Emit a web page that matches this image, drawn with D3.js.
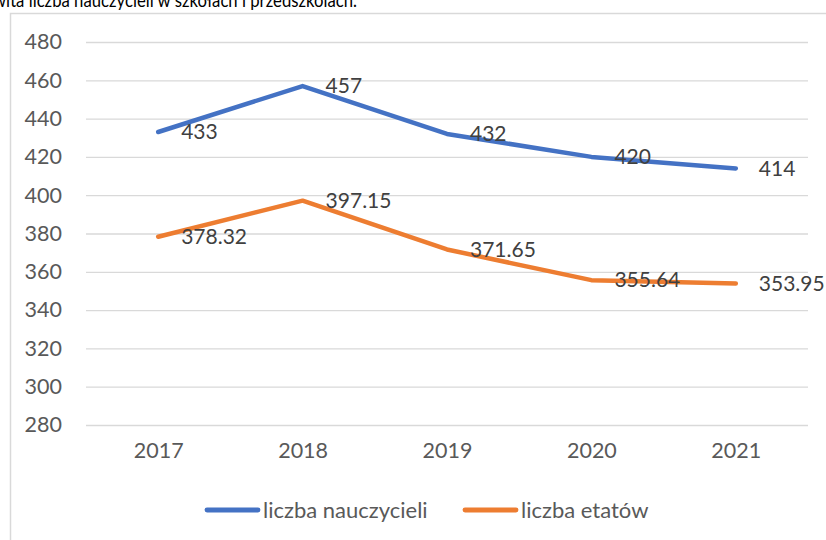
<!DOCTYPE html>
<html><head><meta charset="utf-8">
<script src="https://cdn.jsdelivr.net/npm/d3@7/dist/d3.min.js"></script>
<style>body{margin:0;background:#fff;}svg{display:block;font-family:Lato,"Open Sans",sans-serif;}</style>
</head><body>
<script>
const years = ["2017","2018","2019","2020","2021"];
const nauczyciele = [433, 457, 432, 420, 414];
const etaty = [378.32, 397.15, 371.65, 355.64, 353.95];
const yTicks = [280,300,320,340,360,380,400,420,440,460,480];
const seriesNames = ["liczba nauczycieli","liczba etatów"];
const colors = ["#4472C4","#ED7D31"];
const title = "wita liczba nauczycieli w szkołach i przedszkolach.";

const W=826,H=540;
const svg=d3.select("body").append("svg").attr("width",W).attr("height",H);

svg.append("text").attr("x",-7).attr("y",7).attr("font-size",19).attr("fill","#000")
  .attr("textLength",364).attr("lengthAdjust","spacingAndGlyphs").text(title);

// chart border
svg.append("path").attr("d",`M10.5,${H} V13.5 H${W}`).attr("fill","none").attr("stroke","#d9d9d9").attr("stroke-width",1.5);

const x=d3.scalePoint().domain(years).range([86,808]).padding(0.5);
const y=d3.scaleLinear().domain([280,480]).range([425,42]);

svg.selectAll("line.grid").data(yTicks).join("line")
 .attr("x1",86).attr("x2",808).attr("y1",d=>y(d)+0.5).attr("y2",d=>y(d)+0.5)
 .attr("stroke","#d9d9d9").attr("stroke-width",1.3);

const yAxis=d3.axisLeft(y).tickValues(yTicks).tickSize(0).tickPadding(0);
const ya=svg.append("g").attr("transform","translate(62,0)").call(yAxis);
ya.select(".domain").remove();
ya.selectAll("text").attr("font-size",21.5).attr("fill","#595959").attr("font-family","Lato,'Open Sans',sans-serif");

const xAxis=d3.axisBottom(x).tickSize(0).tickPadding(0);
const xa=svg.append("g").attr("transform","translate(0,450)").call(xAxis);
xa.select(".domain").remove();
xa.selectAll("text").attr("font-size",21.5).attr("fill","#595959").attr("dy","0.0em").attr("font-family","Lato,'Open Sans',sans-serif");
xa.selectAll("text").attr("y",0).attr("dominant-baseline","central");

const line=d3.line().x((d,i)=>x(years[i])).y(d=>y(d));
[nauczyciele,etaty].forEach((s,k)=>{
  svg.append("path").datum(s).attr("d",line).attr("fill","none").attr("stroke",colors[k])
   .attr("stroke-width",4.5).attr("stroke-linecap","round").attr("stroke-linejoin","round");
});
[nauczyciele,etaty].forEach((s,k)=>{
  svg.selectAll(null).data(s).join("text")
   .attr("x",(d,i)=>x(years[i])+23).attr("y",d=>y(d)).attr("dy","0.35em")
   .attr("font-size",21).attr("fill","#404040").text(d=>String(d));
});

// legend
const leg=[{x:207,t:seriesNames[0],c:colors[0]},{x:465,t:seriesNames[1],c:colors[1]}];
leg.forEach(l=>{
  svg.append("line").attr("x1",l.x).attr("x2",l.x+51).attr("y1",510).attr("y2",510)
   .attr("stroke",l.c).attr("stroke-width",4.8).attr("stroke-linecap","round");
  svg.append("text").attr("x",l.x+56).attr("y",510).attr("dy","0.35em").attr("font-size",22).attr("fill","#595959").text(l.t);
});
</script>
</body></html>
